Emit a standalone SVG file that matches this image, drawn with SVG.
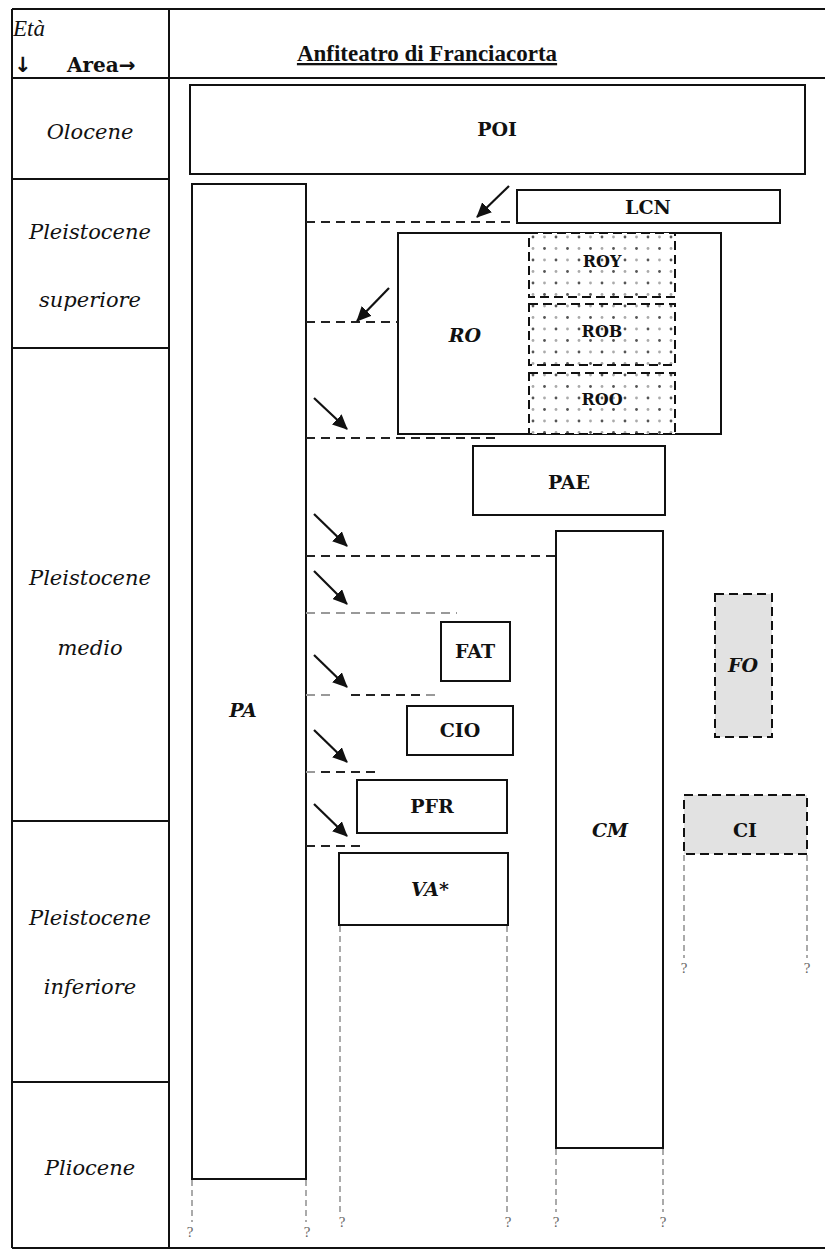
<svg xmlns="http://www.w3.org/2000/svg" width="825" height="1249" viewBox="0 0 825 1249">
<style>
.grid{stroke:#111;stroke-width:2;fill:none}
.box{stroke:#111;stroke-width:2;fill:#fff}
.dbox{stroke:#111;stroke-width:2;stroke-dasharray:9 5;fill:#e2e2e2}
.sbox{stroke:#111;stroke-width:2;stroke-dasharray:9 5;fill:url(#dots)}
.lab{font-family:"DejaVu Serif","Liberation Serif",serif;font-weight:bold;font-size:19px;fill:#111;text-anchor:middle}
.ital{font-family:"DejaVu Serif","Liberation Serif",serif;font-style:italic;font-weight:bold;font-size:19px;fill:#111;text-anchor:middle}
.age{font-family:"DejaVu Serif","Liberation Serif",serif;font-style:italic;font-size:21px;fill:#111;text-anchor:middle}
.dk{stroke:#222;stroke-width:2;stroke-dasharray:9 6;fill:none}
.gr{stroke:#999;stroke-width:2;stroke-dasharray:9 6;fill:none}
.vq{stroke:#aaa;stroke-width:2;stroke-dasharray:6 4;fill:none}
.q{font-family:"Liberation Serif",serif;font-size:15px;fill:#666;text-anchor:middle}
.arr{stroke:#111;stroke-width:2.2;fill:none;marker-end:url(#ah)}
</style>
<defs>
<marker id="ah" markerUnits="userSpaceOnUse" markerWidth="16" markerHeight="14" refX="14" refY="7" orient="auto">
<path d="M0,0 L15,7 L0,14 z" fill="#111"/>
</marker>
<pattern id="dots" patternUnits="userSpaceOnUse" width="23" height="23" x="529" y="233">
<rect width="23" height="23" fill="#fff"/>
<circle cx="4" cy="4" r="1.4" fill="#555"/>
<circle cx="15.5" cy="4" r="1.4" fill="#aaa"/>
<circle cx="4" cy="15.5" r="1.4" fill="#aaa"/>
<circle cx="15.5" cy="15.5" r="1.4" fill="#555"/>
</pattern>
</defs>

<g id="table">
<path class="grid" d="M12,9 H825 M12,9 V1248 M169,9 V1248 M12,1248 H825 M12,78 H825 M12,179 H169 M12,348 H169 M12,821 H169 M12,1082 H169"/>
<text x="13" y="36" style="font-family:'Liberation Serif',serif;font-style:italic;font-size:23px" fill="#111">Età</text>
<text x="14" y="72" style="font-family:'DejaVu Sans',sans-serif;font-weight:bold;font-size:21px" fill="#111">↓</text>
<text x="67" y="72" style="font-family:'DejaVu Serif',serif;font-weight:bold;font-size:20px" fill="#111">Area<tspan style="font-family:'DejaVu Sans',sans-serif">→</tspan></text>
<text x="427" y="61" style="font-family:'Liberation Serif',serif;font-weight:bold;font-size:23px;text-decoration:underline" fill="#111" text-anchor="middle">Anfiteatro di Franciacorta</text>
<text class="age" x="90" y="139">Olocene</text>
<text class="age" x="90" y="239">Pleistocene</text>
<text class="age" x="90" y="307">superiore</text>
<text class="age" x="90" y="585">Pleistocene</text>
<text class="age" x="90" y="655">medio</text>
<text class="age" x="90" y="925">Pleistocene</text>
<text class="age" x="90" y="994">inferiore</text>
<text class="age" x="90" y="1175">Pliocene</text>
</g>

<g id="POI"><rect class="box" x="190" y="85" width="615" height="89"/><text class="lab" x="497" y="136">POI</text></g>
<g id="PA"><rect class="box" x="192" y="184" width="114" height="995"/><text class="ital" x="243" y="717">PA</text></g>
<g id="LCN"><rect class="box" x="517" y="190" width="263" height="33"/><text class="lab" x="648" y="214">LCN</text></g>
<g id="RO"><rect class="box" x="398" y="233" width="323" height="201"/><text class="ital" x="465" y="342">RO</text></g>
<g id="ROY"><rect class="sbox" x="529" y="233" width="146" height="64"/><text class="lab" x="602" y="267" style="font-size:16px">ROY</text></g>
<g id="ROB"><rect class="sbox" x="529" y="304" width="146" height="61"/><text class="lab" x="602" y="337" style="font-size:16px">ROB</text></g>
<g id="ROO"><rect class="sbox" x="529" y="373" width="146" height="61"/><text class="lab" x="602" y="405" style="font-size:16px">ROO</text></g>
<g id="PAE"><rect class="box" x="473" y="446" width="192" height="69"/><text class="lab" x="569" y="489">PAE</text></g>
<g id="CM"><rect class="box" x="556" y="531" width="107" height="617"/><text class="ital" x="610" y="837">CM</text></g>
<g id="FAT"><rect class="box" x="441" y="622" width="69" height="59"/><text class="lab" x="475" y="658">FAT</text></g>
<g id="CIO"><rect class="box" x="407" y="706" width="106" height="49"/><text class="lab" x="460" y="737">CIO</text></g>
<g id="PFR"><rect class="box" x="357" y="780" width="150" height="53"/><text class="lab" x="432" y="813">PFR</text></g>
<g id="VA"><rect class="box" x="339" y="853" width="169" height="72"/><text class="ital" x="430" y="896">VA*</text></g>
<g id="FO"><rect class="dbox" x="715" y="594" width="57" height="143"/><text class="ital" x="743" y="672">FO</text></g>
<g id="CI"><rect class="dbox" x="684" y="795" width="123" height="59"/><text class="lab" x="745" y="837">CI</text></g>

<g id="connectors">
<path class="dk" d="M306,222 H517"/>
<path class="dk" d="M306,322 H398"/>
<path class="dk" d="M306,438 H499"/>
<path class="dk" d="M306,556 H556"/>
<path class="gr" d="M306,613 H457"/>
<path class="gr" d="M306,695 H336"/>
<path class="dk" d="M351,695 H426"/>
<path class="gr" d="M426,695 H441"/>
<path class="gr" d="M306,772 H321"/>
<path class="dk" d="M321,772 H379"/>
<path class="dk" d="M306,846 H361"/>
<path class="arr" d="M509,186 L477,217"/>
<path class="arr" d="M389,288 L357,321"/>
<path class="arr" d="M314,398 L347,429"/>
<path class="arr" d="M314,514 L347,546"/>
<path class="arr" d="M314,571 L347,604"/>
<path class="arr" d="M314,655 L347,687"/>
<path class="arr" d="M314,730 L347,762"/>
<path class="arr" d="M314,804 L347,836"/>
<path class="vq" d="M192,1180 V1222 M306,1180 V1222 M340,926 V1212 M507,926 V1212 M556,1149 V1212 M663,1149 V1212 M684,855 V958 M807,855 V958"/>
<text class="q" x="190" y="1237">?</text>
<text class="q" x="307" y="1237">?</text>
<text class="q" x="342" y="1227">?</text>
<text class="q" x="508" y="1227">?</text>
<text class="q" x="556" y="1227">?</text>
<text class="q" x="663" y="1227">?</text>
<text class="q" x="684" y="973">?</text>
<text class="q" x="807" y="973">?</text>
</g>
</svg>
